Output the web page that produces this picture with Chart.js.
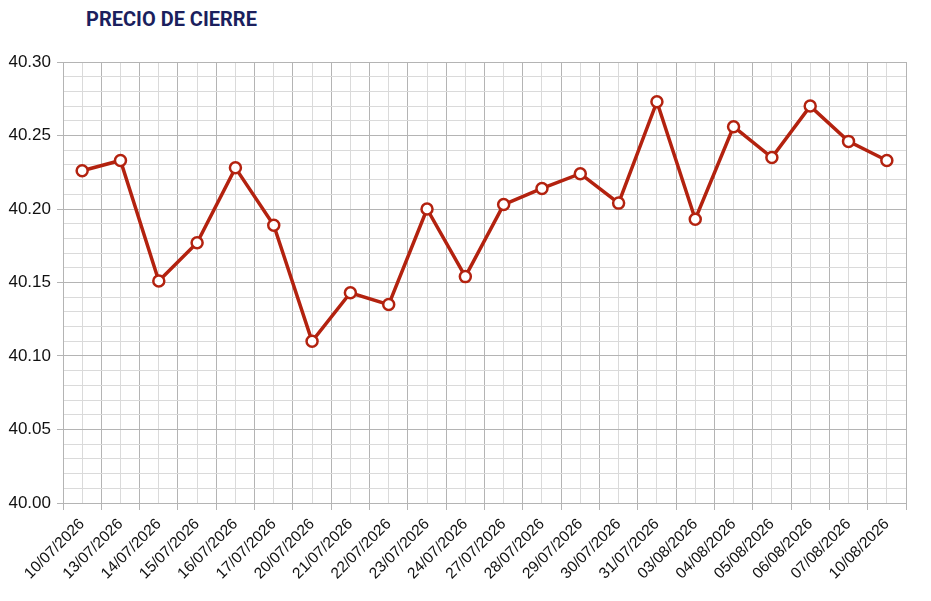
<!DOCTYPE html>
<html>
<head>
<meta charset="utf-8">
<script src="https://cdn.jsdelivr.net/npm/chart.js@4"></script>
<style>
  html, body { margin: 0; padding: 0; background: #fff; }
  #wrap { position: relative; width: 931px; height: 601px; }
  #title { position: absolute; left: 86px; top: 9px; font: bold 20px/20px Roboto, sans-serif; color: #1b1f5e; white-space: nowrap; }
  canvas { position: absolute; left: 0; top: 0; }
</style>
</head>
<body>
<div id="wrap">
  <div id="title">PRECIO DE CIERRE</div>
  <canvas id="c" width="931" height="601"></canvas>
</div>
<script>
const categories = ["10/07/2026","13/07/2026","14/07/2026","15/07/2026","16/07/2026","17/07/2026","20/07/2026","21/07/2026","22/07/2026","23/07/2026","24/07/2026","27/07/2026","28/07/2026","29/07/2026","30/07/2026","31/07/2026","03/08/2026","04/08/2026","05/08/2026","06/08/2026","07/08/2026","10/08/2026"];
const closePrices = [40.226, 40.233, 40.151, 40.177, 40.228, 40.189, 40.110, 40.143, 40.135, 40.200, 40.154, 40.203, 40.214, 40.224, 40.204, 40.273, 40.193, 40.256, 40.235, 40.270, 40.246, 40.233];
const yMin = 40.00, yMax = 40.30, yMinorStep = 0.01;

const MAJOR = '#b4b4b4', MINOR = '#dadada', RED = '#b3220f';
const isMajor = v => Math.round(v * 100) % 5 === 0;

new Chart(document.getElementById('c'), {
  type: 'line',
  data: {
    labels: categories,
    datasets: [{
      data: closePrices,
      borderColor: RED,
      borderWidth: 3.5,
      backgroundColor: '#ffffff',
      pointBackgroundColor: '#ffffff',
      pointBorderColor: RED,
      pointBorderWidth: 2.5,
      pointRadius: 5.5,
      tension: 0,
      fill: false
    }]
  },
  options: {
    responsive: false,
    animation: false,
    devicePixelRatio: 1,
    layout: { padding: { left: 0, right: 25, top: 62, bottom: 0 } },
    plugins: { legend: { display: false }, title: { display: false }, tooltip: { enabled: false } },
    scales: {
      x2: {
        type: 'category',
        position: 'bottom',
        offset: true,
        grid: { offset: false, color: MINOR, lineWidth: 1, drawTicks: false },
        border: { display: false },
        ticks: { display: false },
        afterFit: s => { s.height = 0; }
      },
      x: {
        type: 'category',
        position: 'bottom',
        offset: true,
        grid: { offset: true, color: MAJOR, lineWidth: 1, tickLength: 7, tickColor: MAJOR },
        border: { color: MAJOR, width: 1 },
        ticks: {
          color: '#111',
          font: { family: '"Liberation Sans", Arial, sans-serif', size: 15.5 },
          minRotation: 45, maxRotation: 45, autoSkip: false, padding: 5
        },
        afterFit: s => { s.height = 98; }
      },
      y: {
        min: yMin, max: yMax,
        ticks: {
          stepSize: yMinorStep,
          autoSkip: false,
          color: '#111',
          font: { family: '"Liberation Sans", Arial, sans-serif', size: 17 },
          padding: 6,
          callback: v => isMajor(v) ? v.toFixed(2) : ''
        },
        grid: {
          color: ctx => isMajor(ctx.tick.value) ? MAJOR : MINOR,
          tickColor: ctx => isMajor(ctx.tick.value) ? MAJOR : 'rgba(0,0,0,0)',
          tickLength: 6,
          lineWidth: 1
        },
        border: { color: MAJOR, width: 1 },
        afterFit: s => { s.width = 63; }
      }
    }
  }
});
</script>
</body>
</html>
